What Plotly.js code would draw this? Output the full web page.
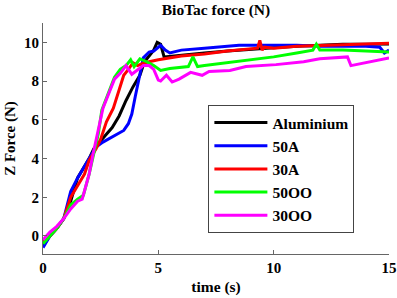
<!DOCTYPE html>
<html>
<head>
<meta charset="utf-8">
<script src="https://cdn.plot.ly/plotly-3.0.1.min.js"></script>
<style>html,body{margin:0;padding:0;background:#fff;}#chart{width:397px;height:298px;}</style>
</head>
<body>
<div id="chart"></div>
<script>
const seriesNames = ['Aluminium', '50A', '30A', '50OO', '30OO'];
const seriesColors = ['#000000', '#0000ff', '#ff0000', '#00ff00', '#ff00ff'];

const alumX = [0, 0.3, 0.6, 0.9, 1.2, 1.5, 1.75, 2.0, 2.2, 2.5, 2.8, 3.0, 3.3, 3.6, 3.9, 4.2, 4.4, 4.6, 4.8, 4.95, 5.1, 5.25, 6, 7, 8, 9, 10, 11, 12, 13, 14, 15];
const alumY = [-0.5, 0.0, 0.4, 0.9, 1.8, 3.0, 3.5, 4.0, 4.5, 4.9, 5.3, 5.6, 6.2, 7.0, 7.7, 8.3, 9.0, 9.3, 9.6, 10.0, 9.9, 9.25, 9.35, 9.45, 9.55, 9.65, 9.72, 9.8, 9.85, 9.9, 9.9, 9.92];

const a50X = [0, 0.3, 0.6, 0.9, 1.2, 1.5, 1.8, 2.05, 2.3, 2.6, 3.0, 3.3, 3.5, 3.7, 3.85, 4.0, 4.2, 4.35, 4.6, 4.8, 5.1, 5.3, 5.5, 6, 7, 8, 8.5, 9, 10, 11, 12, 13, 14, 14.6, 14.8, 15];
const a50Y = [-0.6, 0.0, 0.4, 0.9, 2.3, 3.0, 3.6, 4.1, 4.6, 4.85, 5.1, 5.3, 5.45, 5.8, 6.3, 7.2, 8.3, 9.2, 9.5, 9.55, 9.85, 9.6, 9.45, 9.6, 9.7, 9.8, 9.85, 9.85, 9.85, 9.85, 9.8, 9.8, 9.8, 9.75, 9.45, 9.6];

const a30X = [0, 0.3, 0.6, 0.9, 1.2, 1.5, 1.8, 2.0, 2.3, 2.5, 2.75, 3.05, 3.3, 3.5, 3.7, 3.9, 4.1, 4.3, 4.6, 5, 6, 7, 8, 9, 9.3, 9.4, 9.5, 9.6, 10, 11, 12, 13, 14, 15];
const a30Y = [-0.3, 0.0, 0.4, 0.9, 2.0, 2.6, 3.2, 3.9, 4.5, 5.0, 5.9, 6.6, 7.6, 8.3, 8.6, 8.95, 8.8, 8.9, 9.0, 9.1, 9.3, 9.4, 9.55, 9.65, 9.7, 10.1, 9.6, 9.75, 9.7, 9.8, 9.85, 9.9, 9.92, 9.95];

const o50X = [0, 0.3, 0.6, 0.9, 1.2, 1.5, 1.75, 2.0, 2.2, 2.4, 2.55, 2.75, 2.9, 3.1, 3.35, 3.6, 3.8, 3.95, 4.2, 4.5, 4.8, 5.1, 5.5, 6.3, 6.5, 6.7, 7, 8, 9, 10, 11, 11.7, 11.85, 12.0, 13, 14, 15];
const o50Y = [-0.4, 0.0, 0.4, 0.9, 1.6, 1.9, 2.1, 3.2, 4.2, 5.3, 6.5, 7.1, 7.5, 8.2, 8.6, 8.8, 9.1, 8.75, 9.15, 9.0, 8.8, 8.55, 8.65, 8.75, 9.25, 8.75, 8.8, 8.95, 9.1, 9.25, 9.45, 9.6, 9.9, 9.6, 9.6, 9.55, 9.5];

const o30X = [0, 0.3, 0.6, 0.9, 1.2, 1.5, 1.7, 2.0, 2.2, 2.35, 2.6, 2.9, 3.1, 3.35, 3.6, 3.85, 4.1, 4.35, 4.6, 4.8, 5.0, 5.1, 5.35, 5.6, 5.9, 6.2, 6.4, 6.9, 7.2, 8.1, 8.8, 10.1, 11.3, 12.0, 13.0, 13.2, 13.35, 14.2, 15];
const o30Y = [-0.2, 0.2, 0.5, 0.9, 1.4, 1.8, 1.9, 3.2, 4.4, 5.2, 6.6, 7.5, 8.1, 8.4, 8.8, 8.35, 8.6, 8.8, 8.8, 8.6, 8.05, 8.0, 8.3, 7.95, 8.1, 8.3, 8.45, 8.3, 8.5, 8.55, 8.75, 8.85, 9.0, 9.15, 9.25, 9.25, 8.8, 9.0, 9.2];

const xTicks = [0, 5, 10, 15];
const yTicks = [0, 2, 4, 6, 8, 10];

const xs = [alumX, a50X, a30X, o50X, o30X];
const ys = [alumY, a50Y, a30Y, o50Y, o30Y];

const FONT = 'Liberation Serif, Times New Roman, serif';
const traces = seriesNames.map((n, i) => ({
  x: xs[i], y: ys[i], name: n, type: 'scatter', mode: 'lines',
  line: {color: seriesColors[i], width: 3}
}));

const axisCommon = {
  showline: true, linecolor: '#666', linewidth: 1, mirror: false,
  showgrid: false, zeroline: false, ticks: 'inside', ticklen: 4, tickcolor: '#666',
  tickfont: {family: FONT, size: 15, weight: 'bold', color: '#000'}
};

const layout = {
  width: 397, height: 298,
  margin: {l: 43, r: 8, t: 23, b: 44},
  paper_bgcolor: '#fff', plot_bgcolor: '#fff',
  font: {family: FONT, color: '#000'},
  title: {text: 'BioTac force (N)', font: {family: FONT, size: 15.5, weight: 'bold', color: '#000'},
    x: 0.5, xref: 'paper', y: 1 - 10/298, yref: 'container', yanchor: 'middle'},
  xaxis: Object.assign({}, axisCommon, {range: [0, 15], tickvals: xTicks,
    title: {text: 'time (s)', font: {family: FONT, size: 15.5, weight: 'bold', color: '#000'}, standoff: 6}}),
  yaxis: Object.assign({}, axisCommon, {range: [-0.93, 11.0], tickvals: yTicks,
    title: {text: 'Z Force (N)', font: {family: FONT, size: 15, weight: 'bold', color: '#000'}, standoff: 4}}),
  showlegend: true,
  legend: {x: 0.478, y: 0.645, xanchor: 'left', yanchor: 'top',
    bgcolor: '#fff', bordercolor: '#444', borderwidth: 1,
    font: {family: FONT, size: 15.5, weight: 'bold', color: '#000'},
    itemwidth: 53}
};

Plotly.newPlot('chart', traces, layout, {staticPlot: true, displayModeBar: false});
</script>
</body>
</html>
